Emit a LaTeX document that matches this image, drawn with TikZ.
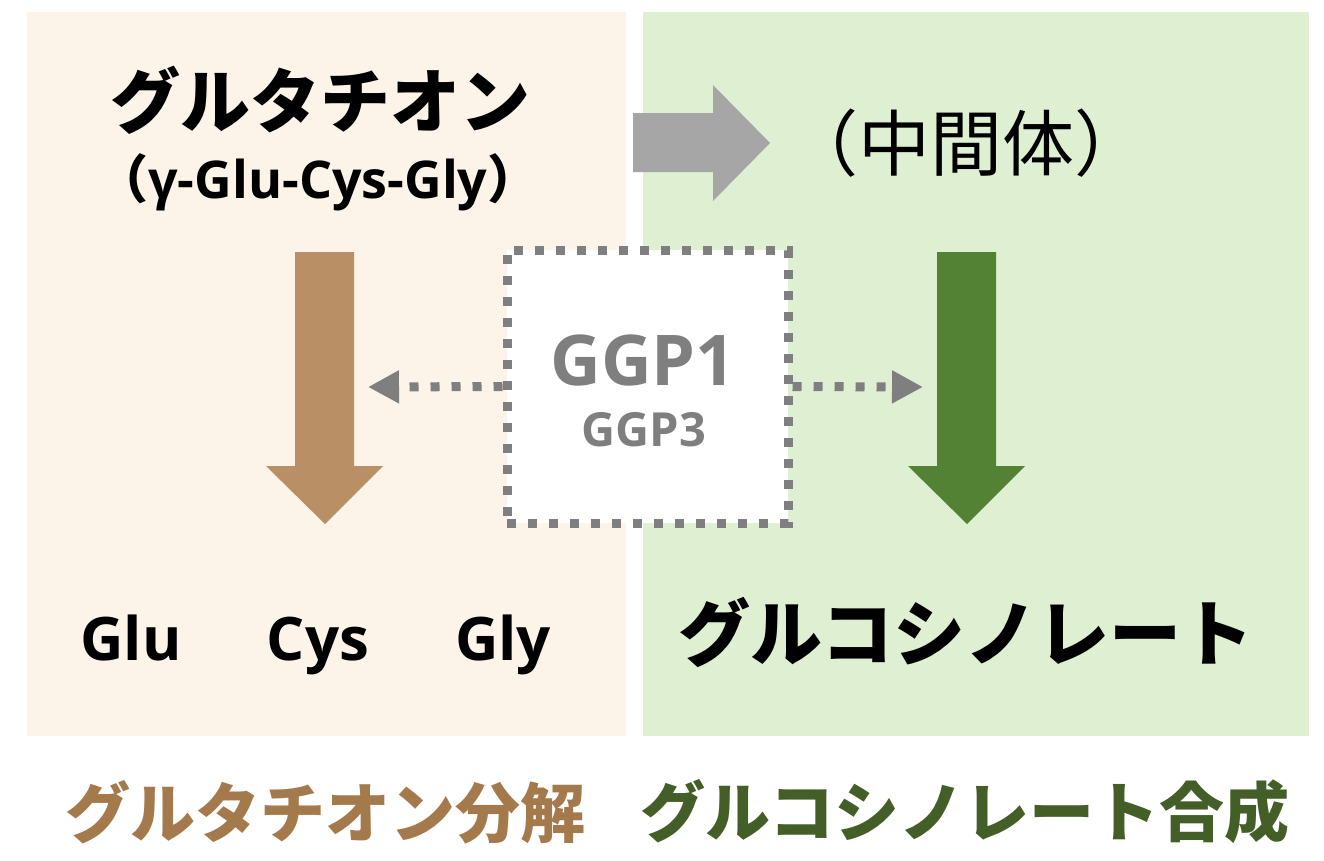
\documentclass[tikz,border=0pt]{standalone}
\usepackage{fontspec}
\setmainfont{Open Sans}
\newfontfamily\jp{Noto Sans CJK JP}
\usetikzlibrary{arrows.meta}

\definecolor{panelL}{HTML}{FCF3E9}
\definecolor{panelR}{HTML}{DFF0D2}
\definecolor{brownarr}{HTML}{B98F66}
\definecolor{greenarr}{HTML}{548235}
\definecolor{brownlab}{HTML}{A47A4D}
\definecolor{greenlab}{HTML}{435F27}
\definecolor{grayarr}{HTML}{A6A6A6}
\definecolor{grayline}{HTML}{7F7F7F}

\tikzset{
  dotline/.style={grayline, line width=9pt, dash pattern=on 9pt off 12pt,
    -{Triangle[length=31pt,width=31pt]}},
  ggpbox/.style={draw=grayline, fill=white, line width=9pt,
    dash pattern=on 9pt off 12pt, minimum width=281pt, minimum height=273pt,
    inner sep=0pt},
  jpbold/.style={font=\jp\bfseries\fontsize{#1}{#1}\selectfont, inner sep=0pt},
  jplight/.style={font=\jp\fontsize{#1}{#1}\selectfont, inner sep=0pt},
  latbold/.style={font=\bfseries\fontsize{#1}{#1}\selectfont, inner sep=0pt},
}

\begin{document}
\begin{tikzpicture}[x=1pt, y=-1pt]
\useasboundingbox (0,0) rectangle (1324,860);

% panels
\fill[panelL] (27,12) rectangle (626,736);
\fill[panelR] (643,12) rectangle (1309,736);

% block arrows
\fill[grayarr] (633,113) -- (713,113) -- (713,85) -- (770,143)
  -- (713,201) -- (713,172) -- (633,172) -- cycle;
\fill[brownarr] (295,252) -- (354,252) -- (354,466) -- (383,466)
  -- (325,524) -- (266,466) -- (295,466) -- cycle;
\fill[greenarr] (937,252) -- (996,252) -- (996,466) -- (1025,466)
  -- (967,524) -- (908,466) -- (937,466) -- cycle;

\coordinate [] (decomp) at (368,387);
\coordinate [] (synth)  at (923,387);

% enzyme box
\node[ggpbox] (ggp) at (647.5,386.5) {};
\node[latbold=70, text=grayline] (ggp1) at (643,360) {GGP1};
\node[latbold=47, text=grayline] (ggp3) at (644,430) {GGP3};

\draw[dotline] (ggp.west) -- (decomp);
\draw[dotline] (ggp.east) -- (synth);

% texts
\node[jpbold=70] (gsh) at (320,100) {グルタチオン};
\node[latbold=52] (gshseq) at (318,182) {{\jp （}γ-Glu-Cys-Gly{\jp ）}};
\node[jplight=72] (inter) at (966,143) {（中間体）};

\foreach \x/\aa in {131/Glu, 318/Cys, 503/Gly}
    \node[latbold=60, anchor=base] (\aa) at (\x,660) {\aa};

\node[jpbold=72] (gsl) at (966,632) {グルコシノレート};

\node[jpbold=65, text=brownlab] (lab-deg) at (325,812) {グルタチオン分解};
\node[jpbold=65, text=greenlab] (lab-syn) at (965,812) {グルコシノレート合成};

\end{tikzpicture}
\end{document}
